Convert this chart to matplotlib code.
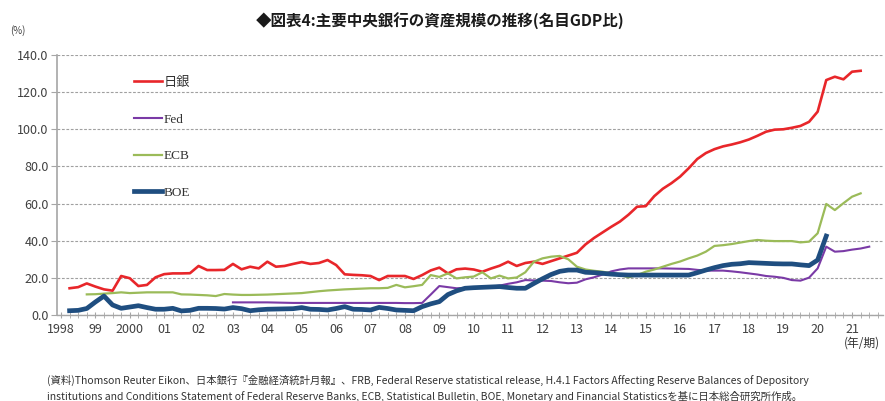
import matplotlib
matplotlib.use("Agg")
import matplotlib.pyplot as plt
import numpy as np

plt.rcParams['font.family'] = ['Noto Sans CJK JP', 'DejaVu Sans']

# ---- data (quarterly, % of nominal GDP) ----
boj_start = 1998.25
boj = [14.4, 15.0, 17.0, 15.3, 13.8, 13.1, 21.0, 19.8, 15.6, 16.2, 20.3, 22.0,
       22.4, 22.4, 22.5, 26.4, 24.2, 24.2, 24.3, 27.5, 24.6, 26.0, 25.1, 28.7,
       26.0, 26.4, 27.5, 28.5, 27.5, 28.0, 29.6, 26.9, 21.9, 21.6, 21.4, 21.0,
       18.8, 21.0, 21.0, 21.0, 19.4, 21.5, 24.0, 25.5, 22.4, 24.6, 25.0, 24.5,
       23.3, 25.0, 26.5, 28.7, 26.4, 28.0, 28.7, 27.5, 29.0, 30.5, 32.0, 33.5,
       38.0, 41.5, 44.5, 47.5, 50.3, 54.0, 58.3, 58.6, 64.0, 68.0, 71.0, 74.5,
       79.0, 84.0, 87.2, 89.3, 90.8, 91.8, 93.0, 94.5, 96.5, 98.7, 99.8, 100.0,
       100.8, 101.8, 104.0, 109.5, 126.5, 128.3, 126.9, 131.0, 131.5]

fed_start = 2003.0
fed = [6.8, 6.8, 6.8, 6.8, 6.8, 6.7, 6.6, 6.5, 6.5, 6.5, 6.5, 6.5,
       6.5, 6.5, 6.5, 6.5, 6.5, 6.5, 6.5, 6.5, 6.4, 6.4, 6.5, 11.0,
       15.6, 15.0, 14.4, 14.6, 14.9, 15.0, 15.3, 15.8, 16.8, 17.6, 18.8, 18.6,
       18.5, 18.3, 17.6, 17.1, 17.4, 19.2, 20.3, 21.8, 23.5, 24.5, 25.1, 25.1,
       25.1, 25.1, 25.1, 25.0, 24.9, 24.8, 24.3, 23.9, 23.9, 23.9, 23.5, 23.0,
       22.4, 21.8, 21.0, 20.6, 20.0, 18.8, 18.5, 20.1, 25.1, 36.8, 34.1, 34.4,
       35.2, 35.8, 36.8]

ecb_start = 1998.75
ecb = [11.1, 11.2, 11.5, 11.8, 12.2, 11.8, 12.0, 12.2, 12.2, 12.2, 12.2, 11.1,
       11.0, 10.8, 10.6, 10.2, 11.3, 11.0, 10.8, 10.8, 10.9, 11.0, 11.2, 11.4,
       11.6, 11.8, 12.3, 12.8, 13.2, 13.5, 13.8, 14.0, 14.2, 14.4, 14.4, 14.6,
       16.2, 14.9, 15.5, 16.2, 21.5, 20.5, 22.4, 19.7, 20.3, 20.7, 23.0, 19.7,
       21.2, 19.7, 20.2, 23.0, 28.7, 30.5, 31.4, 31.8, 30.0, 26.0, 24.5, 23.8,
       23.3, 22.5, 21.5, 20.3, 21.5, 23.3, 24.5, 26.0, 27.5, 28.8, 30.5, 32.0,
       34.1, 37.2, 37.6, 38.2, 39.0, 39.8, 40.4, 40.0, 39.8, 39.8, 39.8, 39.1,
       39.5, 44.0, 59.8, 56.5, 60.2, 63.7, 65.5]

boe_start = 1998.25
boe = [2.3, 2.5, 3.5, 7.0, 10.2, 5.4, 3.6, 4.3, 5.0, 4.0, 3.1, 3.1,
       3.6, 2.2, 2.5, 3.6, 3.6, 3.5, 3.2, 4.0, 3.4, 2.3, 2.8, 3.1,
       3.2, 3.3, 3.4, 4.0, 3.1, 3.0, 2.7, 3.5, 4.5, 3.1, 3.0, 2.7,
       4.1, 3.5, 2.7, 2.5, 2.3, 4.5, 6.0, 7.2, 11.0, 13.0, 14.4, 14.7,
       14.9, 15.1, 15.3, 14.8, 14.4, 14.4, 17.0, 19.5, 21.8, 23.5, 24.2, 24.2,
       23.0, 22.8, 22.4, 22.0, 21.7, 21.5, 21.5, 21.5, 21.5, 21.5, 21.5, 21.5,
       21.5, 22.8, 24.2, 25.5, 26.6, 27.3, 27.6, 28.2, 28.0, 27.8, 27.6,
       27.5, 27.5, 27.0, 26.6, 29.6, 42.5]

series_names = ['日銀', 'Fed', 'ECB', 'BOE']
year_ticks = list(range(1998, 2022))
year_labels = ['1998', '99', '2000'] + ['%02d' % (y % 100) for y in range(2001, 2022)]
y_ticks = [0, 20, 40, 60, 80, 100, 120, 140]

title = '◆図表4:主要中央銀行の資産規模の推移(名目GDP比)'
note1 = '(資料)Thomson Reuter Eikon、日本銀行『金融経済統計月報』、FRB, Federal Reserve statistical release, H.4.1 Factors Affecting Reserve Balances of Depository'
note2 = 'institutions and Conditions Statement of Federal Reserve Banks, ECB, Statistical Bulletin, BOE, Monetary and Financial Statisticsを基に日本総合研究所作成。'

def qx(start, vals):
    return start + 0.25 * np.arange(len(vals))

W, H = 885, 401
fig = plt.figure(figsize=(W / 100, H / 100), dpi=100)
ax = fig.add_axes([57 / W, 1 - 315 / H, (883 - 57) / W, (315 - 55) / H])

grey = '#a6a6a6'
ax.set_ylim(0, 140)
ax.set_xlim(1997.884, 2021.9)
ax.set_yticks(y_ticks)
ax.set_yticklabels(['%.1f' % v for v in y_ticks])
ax.yaxis.grid(True, color='#a0a0a0', linestyle=(0, (2.5, 1.5)), linewidth=0.8)
ax.set_axisbelow(True)
for s in ['top', 'right']:
    ax.spines[s].set_visible(False)
ax.spines['left'].set_color(grey)
ax.spines['left'].set_linewidth(1.2)
ax.spines['bottom'].set_color(grey)
ax.spines['bottom'].set_linewidth(1.0)

ax.set_xticks(year_ticks)
ax.set_xticklabels(year_labels)
ax.set_xticks(np.arange(1998, 2022, 0.25), minor=True)
ax.tick_params(axis='x', which='both', direction='inout', length=4, color=grey,
               labelsize=9, labelcolor='#404040', pad=4)
ax.tick_params(axis='y', direction='out', length=4, color=grey,
               labelsize=9, labelcolor='#404040', pad=2)

ax.plot(qx(boj_start, boj), boj, color='#e8262a', lw=1.9, label=series_names[0], solid_joinstyle='round')
ax.plot(qx(fed_start, fed), fed, color='#7a3aa6', lw=1.5, label=series_names[1], solid_joinstyle='round')
ax.plot(qx(ecb_start, ecb), ecb, color='#9bbb59', lw=1.6, label=series_names[2], solid_joinstyle='round')
ax.plot(qx(boe_start, boe), boe, color='#1f4e80', lw=3.4, label=series_names[3], solid_joinstyle='round')

leg = ax.legend(loc='upper left', bbox_to_anchor=(0.079, 0.962), frameon=False,
                handlelength=2.1, handletextpad=0.15, labelspacing=1.85,
                prop={'family': ['Liberation Serif', 'Noto Sans CJK JP'], 'size': 9.5})
for t in leg.get_texts():
    t.set_color('#333333')

fig.text(0.497, 1 - 21 / H, title, ha='center', va='center', fontsize=11.2,
         fontweight='bold', color='#1a1a1a')
fig.text(10 / W, 1 - 31 / H, '(%)', ha='left', va='center', fontsize=7, color='#404040')
fig.text(880 / W, 1 - 343 / H, '(年/期)', ha='right', va='center', fontsize=8.5, color='#333333')
fig.text(47 / W, 1 - 380 / H, note1, ha='left', va='center', fontsize=7.5, color='#333333')
fig.text(47 / W, 1 - 396 / H, note2, ha='left', va='center', fontsize=7.5, color='#333333')

fig.savefig('out.png', dpi=100)
